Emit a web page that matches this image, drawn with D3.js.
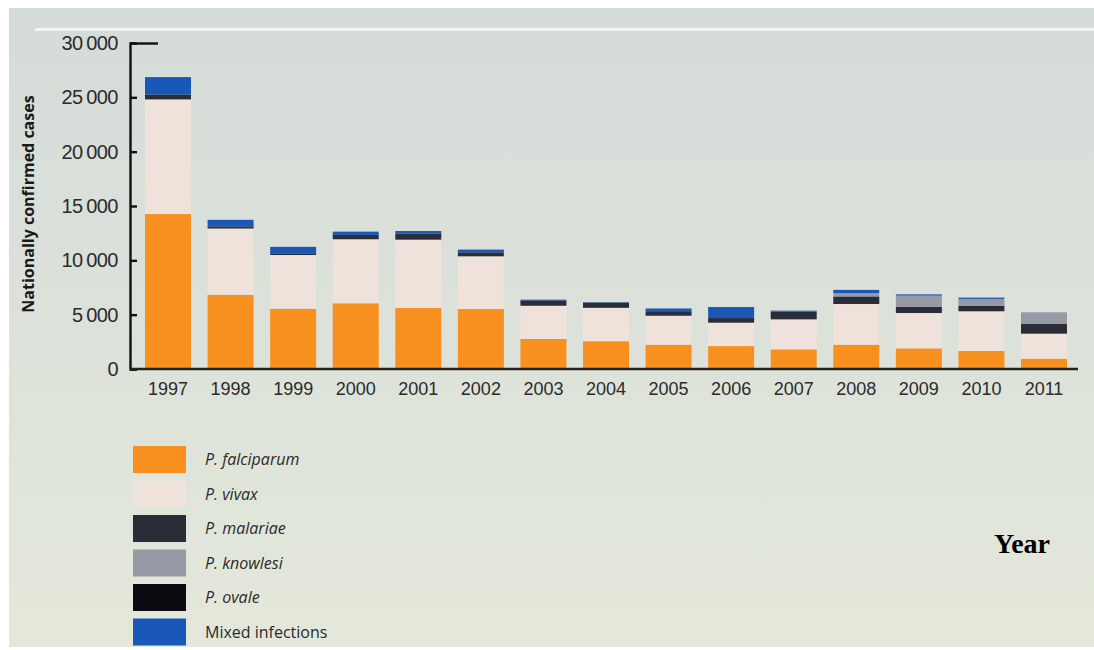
<!DOCTYPE html>
<html>
<head>
<meta charset="utf-8">
<script src="https://cdn.jsdelivr.net/npm/d3@7"></script>
<style>
  body { margin: 0; background: #fff; }
  svg { display: block; font-family: "Open Sans", "Noto Sans", sans-serif; }
  .tick text { fill: #2b2b2b; }
</style>
</head>
<body>
<script>
(function(){

    // Data (cases per year, stacked segments)
    var years = ["1997", "1998", "1999", "2000", "2001", "2002", "2003", "2004",
                 "2005", "2006", "2007", "2008", "2009", "2010", "2011"];
    var falciparum = [14260, 6830, 5550, 6050, 5610, 5520, 2760, 2560, 2240, 2110, 1810, 2240, 1900, 1660, 950];
    var vivax      = [10550, 6100, 4940, 5890, 6290, 4850, 3060, 3070, 2660, 2150, 2760, 3740, 3250, 3650, 2300];
    var malariae   = [460, 200, 100, 400, 550, 370, 500, 490, 420, 430, 700, 700, 590, 520, 890];
    var knowlesi   = [0, 0, 0, 0, 0, 0, 0, 0, 0, 0, 0, 300, 1010, 620, 1080];
    var ovale      = [0, 0, 0, 0, 0, 0, 0, 0, 0, 0, 0, 0, 0, 0, 0];
    var mixed      = [1590, 600, 650, 300, 250, 250, 60, 30, 250, 1010, 100, 300, 120, 120, 0];
    var yTicks = [0, 5000, 10000, 15000, 20000, 25000, 30000];

    var seriesNames = ["P. falciparum", "P. vivax", "P. malariae", "P. knowlesi", "P. ovale", "Mixed infections"];
    var seriesValues = [falciparum, vivax, malariae, knowlesi, ovale, mixed];
    var colors = ["#f7901e", "#eee2da", "#2a2d37", "#979aa4", "#0a0a10", "#1957b8"];

    var width = 1094, height = 650;

    var svg = d3.select("body").append("svg")
        .attr("width", width)
        .attr("height", height);

    // photo-like background
    var defs = svg.append("defs");
    var grad = defs.append("linearGradient")
        .attr("id", "bg")
        .attr("x1", 0).attr("y1", 0).attr("x2", 0).attr("y2", 1);
    grad.append("stop").attr("offset", "0%").attr("stop-color", "#d5dcd9");
    grad.append("stop").attr("offset", "100%").attr("stop-color", "#e3e8da");

    svg.append("rect")
        .attr("x", 9).attr("y", 8)
        .attr("width", width - 9).attr("height", 639)
        .attr("fill", "url(#bg)");

    svg.append("rect")
        .attr("x", 35).attr("y", 28)
        .attr("width", width - 35).attr("height", 3)
        .attr("fill", "#f4f6f3");

    // table for the stack
    var table = years.map(function(y, i){
        var row = { year: y };
        seriesNames.forEach(function(name, j){ row[name] = seriesValues[j][i]; });
        return row;
    });

    var stack = d3.stack().keys(seriesNames);
    var stacked = stack(table);

    var x = d3.scaleBand()
        .domain(years)
        .range([130, 1082])
        .paddingInner(0.265)
        .paddingOuter(0.24);

    var y = d3.scaleLinear()
        .domain([0, 30000])
        .range([369, 43]);

    var color = d3.scaleOrdinal().domain(seriesNames).range(colors);

    svg.selectAll(".series")
        .data(stacked)
        .enter()
        .append("g")
        .attr("class", "series")
        .attr("fill", function(d){ return color(d.key); })
        .selectAll("rect")
        .data(function(d){ return d; })
        .enter()
        .append("rect")
        .attr("x", function(d){ return x(d.data.year); })
        .attr("y", function(d){ return y(d[1]); })
        .attr("width", x.bandwidth())
        .attr("height", function(d){ return Math.max(0, y(d[0]) - y(d[1])); });

    // y axis
    var fmt = function(v){ return d3.format(",")(v).replace(/,/g, "\u2009"); };
    var yAxis = d3.axisRight(y)
        .tickValues(yTicks)
        .tickSize(7)
        .tickFormat(fmt);

    var gy = svg.append("g")
        .attr("transform", "translate(130,0)")
        .call(yAxis);
    gy.select(".domain").attr("stroke", "#111").attr("stroke-width", 2.4);
    gy.selectAll(".tick line").attr("stroke", "#111").attr("stroke-width", 2.4);
    gy.selectAll(".tick text")
        .attr("x", -12)
        .attr("text-anchor", "end")
        .style("font-size", "20px")
        .style("letter-spacing", "-0.5px");
    gy.select(".tick:last-of-type line").attr("x2", 28);

    // x axis
    var xAxis = d3.axisBottom(x).tickSize(0).tickPadding(13);
    var gx = svg.append("g")
        .attr("transform", "translate(0,369)")
        .call(xAxis);
    gx.select(".domain").attr("stroke", "#222").attr("stroke-width", 2.6)
        .attr("d", "M130,0H1078");
    gx.selectAll(".tick text")
        .style("font-size", "18px");

    // y label
    svg.append("text")
        .attr("transform", "translate(34,204) rotate(-90)")
        .attr("text-anchor", "middle")
        .style("font-size", "16px")
        .style("font-weight", "bold")
        .attr("fill", "#1a1a1a")
        .text("Nationally confirmed cases");

    // legend
    var legend = svg.selectAll(".legend")
        .data(seriesNames)
        .enter()
        .append("g")
        .attr("class", "legend")
        .attr("transform", function(d, i){ return "translate(133," + (446 + i * 34.5) + ")"; });

    legend.append("rect")
        .attr("width", 53)
        .attr("height", 27)
        .attr("fill", function(d){ return color(d); });

    legend.append("text")
        .attr("x", 72)
        .attr("y", 19)
        .style("font-size", "16px")
        .style("font-style", function(d){ return d.indexOf("P.") === 0 ? "italic" : "normal"; })
        .attr("fill", "#2a2a2a")
        .text(function(d){ return d; });

    // axis title added on the photo
    svg.append("text")
        .attr("x", 1050)
        .attr("y", 553)
        .attr("text-anchor", "end")
        .style("font-family", "'Liberation Serif', 'DejaVu Serif', serif")
        .style("font-size", "28px")
        .style("font-weight", "bold")
        .attr("fill", "#000")
        .text("Year");

})();
</script>
</body>
</html>
